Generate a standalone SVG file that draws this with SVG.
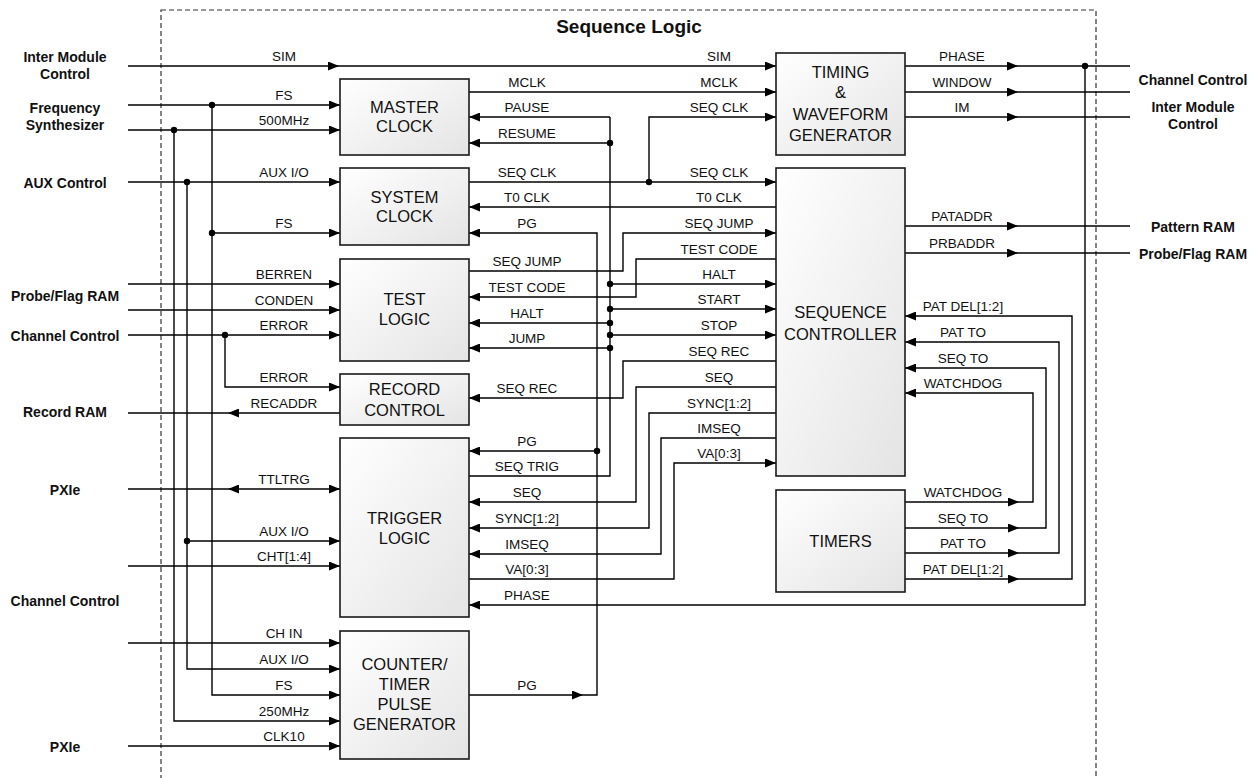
<svg xmlns="http://www.w3.org/2000/svg" width="1258" height="778" viewBox="0 0 1258 778">
<style>
text{font-family:"Liberation Sans",Arial,sans-serif;fill:#111}
.s{font-size:13.5px;text-anchor:middle}
.e{font-size:14px;font-weight:bold;text-anchor:middle}
.b{font-size:16.5px;text-anchor:middle}
.t{font-size:19px;font-weight:bold;text-anchor:middle}
.w{stroke:#000;stroke-width:1.4;fill:none}
.a{marker-end:url(#arr)}
.box{fill:url(#g);stroke:#1a1a1a;stroke-width:1.6}
.d{fill:#000}
</style>
<defs>
<linearGradient id="g" x1="0" y1="0" x2="1" y2="1"><stop offset="0" stop-color="#ffffff"/><stop offset="1" stop-color="#e4e4e4"/></linearGradient>
<marker id="arr" markerWidth="11" markerHeight="9" refX="11" refY="4.5" orient="auto-start-reverse" markerUnits="userSpaceOnUse"><path d="M0,0 L11,4.5 L0,9 z" fill="#000"/></marker>
</defs>
<rect id="frame" x="161" y="10" width="935" height="790" fill="none" stroke="#333" stroke-width="1.2" stroke-dasharray="5,3"/>
<text class="t" x="629" y="33">Sequence Logic</text>

<g id="external-labels">
<text class="e" x="65" y="62">Inter Module</text><text class="e" x="65" y="79">Control</text>
<text class="e" x="65" y="113">Frequency</text><text class="e" x="65" y="130">Synthesizer</text>
<text class="e" x="65" y="188">AUX Control</text>
<text class="e" x="65" y="301">Probe/Flag RAM</text>
<text class="e" x="65" y="341">Channel Control</text>
<text class="e" x="65" y="417">Record RAM</text>
<text class="e" x="65" y="495">PXIe</text>
<text class="e" x="65" y="606">Channel Control</text>
<text class="e" x="65" y="752">PXIe</text>
<text class="e" x="1193" y="85">Channel Control</text>
<text class="e" x="1193" y="112">Inter Module</text><text class="e" x="1193" y="129">Control</text>
<text class="e" x="1193" y="232">Pattern RAM</text>
<text class="e" x="1193" y="259">Probe/Flag RAM</text>
</g>

<g id="connectors">
<path class="w a" d="M128,66 H339"/><path class="w a" d="M339,66 H776"/>
<path class="w a" d="M128,105 H340"/>
<path class="w a" d="M128,130 H340"/>
<path class="w a" d="M128,182 H340"/>
<path class="w a" d="M212,105 V695 H340"/>
<path class="w a" d="M212,233 H340"/>
<path class="w a" d="M174,130 V721 H340"/>
<path class="w a" d="M187,182 V669 H340"/>
<path class="w a" d="M187,541 H340"/>
<path class="w a" d="M128,284 H340"/>
<path class="w a" d="M128,310 H340"/>
<path class="w a" d="M128,335 H340"/>
<path class="w a" d="M225,335 V387 H340"/>
<path class="w a" d="M340,413 H228"/><path class="w" d="M228,413 H128"/>
<path class="w a" d="M228,489 H340" marker-start="url(#arr)"/><path class="w" d="M228,489 H128"/>
<path class="w a" d="M128,566 H340"/>
<path class="w a" d="M128,643 H340"/>
<path class="w a" d="M128,746 H340"/>
<path class="w a" d="M469,92 H776"/>
<path class="w a" d="M610,117 H469"/>
<path class="w" d="M610,117 V476 H469"/>
<path class="w a" d="M610,143 H469"/>
<path class="w a" d="M469,182 H776"/>
<path class="w a" d="M649,182 V117 H776"/>
<path class="w a" d="M776,207 H469"/>
<path class="w a" d="M469,695 H583"/>
<path class="w a" d="M583,695 H597 V233 H469"/>
<path class="w a" d="M597,451 H469"/>
<path class="w a" d="M469,271 H623 V233 H776"/>
<path class="w a" d="M776,259 H636 V297 H469"/>
<path class="w a" d="M610,284 H776"/>
<path class="w a" d="M610,309 H776"/>
<path class="w a" d="M610,323 H469"/>
<path class="w a" d="M610,335 H776"/>
<path class="w a" d="M610,348 H469"/>
<path class="w a" d="M776,361 H623 V398 H469"/>
<path class="w a" d="M776,387 H636 V502 H469"/>
<path class="w a" d="M776,413 H649 V528 H469"/>
<path class="w a" d="M776,438 H661 V554 H469"/>
<path class="w a" d="M469,579 H674 V463 H776"/>
<path class="w a" d="M905,66 H1018"/><path class="w" d="M1018,66 H1130"/>
<path class="w a" d="M1085,66 V605 H469"/>
<path class="w a" d="M905,92 H1018"/><path class="w" d="M1018,92 H1130"/>
<path class="w a" d="M905,117 H1018"/><path class="w" d="M1018,117 H1130"/>
<path class="w a" d="M905,226 H1018"/><path class="w" d="M1018,226 H1130"/>
<path class="w a" d="M905,253 H1018"/><path class="w" d="M1018,253 H1130"/>
<path class="w a" d="M905,502 H1019"/><path class="w a" d="M1019,502 H1033 V393 H905"/>
<path class="w a" d="M905,528 H1019"/><path class="w a" d="M1019,528 H1046 V368 H905"/>
<path class="w a" d="M905,553 H1019"/><path class="w a" d="M1019,553 H1059 V342 H905"/>
<path class="w a" d="M905,579 H1019"/><path class="w a" d="M1019,579 H1072 V316 H905"/>
<g class="d">
<circle cx="212" cy="105" r="3.2"/><circle cx="174" cy="130" r="3.2"/><circle cx="187" cy="182" r="3.2"/>
<circle cx="212" cy="233" r="3.2"/><circle cx="225" cy="335" r="3.2"/><circle cx="187" cy="541" r="3.2"/>
<circle cx="610" cy="143" r="3.2"/><circle cx="649" cy="182" r="3.2"/>
<circle cx="610" cy="284" r="3.2"/><circle cx="610" cy="309" r="3.2"/><circle cx="610" cy="323" r="3.2"/>
<circle cx="610" cy="335" r="3.2"/><circle cx="610" cy="348" r="3.2"/><circle cx="597" cy="451" r="3.2"/>
<circle cx="1085" cy="66" r="3.2"/>
</g>
</g>

<g id="signal-labels">
<text class="s" x="284" y="61">SIM</text>
<text class="s" x="284" y="100">FS</text>
<text class="s" x="284" y="125">500MHz</text>
<text class="s" x="284" y="177">AUX I/O</text>
<text class="s" x="284" y="228">FS</text>
<text class="s" x="284" y="279">BERREN</text>
<text class="s" x="284" y="305">CONDEN</text>
<text class="s" x="284" y="330">ERROR</text>
<text class="s" x="284" y="382">ERROR</text>
<text class="s" x="284" y="408">RECADDR</text>
<text class="s" x="284" y="484">TTLTRG</text>
<text class="s" x="284" y="536">AUX I/O</text>
<text class="s" x="284" y="561">CHT[1:4]</text>
<text class="s" x="284" y="638">CH IN</text>
<text class="s" x="284" y="664">AUX I/O</text>
<text class="s" x="284" y="690">FS</text>
<text class="s" x="284" y="716">250MHz</text>
<text class="s" x="284" y="741">CLK10</text>

<text class="s" x="527" y="87">MCLK</text>
<text class="s" x="527" y="112">PAUSE</text>
<text class="s" x="527" y="138">RESUME</text>
<text class="s" x="527" y="177">SEQ CLK</text>
<text class="s" x="527" y="202">T0 CLK</text>
<text class="s" x="527" y="228">PG</text>
<text class="s" x="527" y="266">SEQ JUMP</text>
<text class="s" x="527" y="292">TEST CODE</text>
<text class="s" x="527" y="318">HALT</text>
<text class="s" x="527" y="343">JUMP</text>
<text class="s" x="527" y="393">SEQ REC</text>
<text class="s" x="527" y="446">PG</text>
<text class="s" x="527" y="471">SEQ TRIG</text>
<text class="s" x="527" y="497">SEQ</text>
<text class="s" x="527" y="523">SYNC[1:2]</text>
<text class="s" x="527" y="549">IMSEQ</text>
<text class="s" x="527" y="574">VA[0:3]</text>
<text class="s" x="527" y="600">PHASE</text>
<text class="s" x="527" y="690">PG</text>

<text class="s" x="719" y="61">SIM</text>
<text class="s" x="719" y="87">MCLK</text>
<text class="s" x="719" y="112">SEQ CLK</text>
<text class="s" x="719" y="177">SEQ CLK</text>
<text class="s" x="719" y="202">T0 CLK</text>
<text class="s" x="719" y="228">SEQ JUMP</text>
<text class="s" x="719" y="254">TEST CODE</text>
<text class="s" x="719" y="279">HALT</text>
<text class="s" x="719" y="304">START</text>
<text class="s" x="719" y="330">STOP</text>
<text class="s" x="719" y="356">SEQ REC</text>
<text class="s" x="719" y="382">SEQ</text>
<text class="s" x="719" y="408">SYNC[1:2]</text>
<text class="s" x="719" y="433">IMSEQ</text>
<text class="s" x="719" y="458">VA[0:3]</text>

<text class="s" x="962" y="61">PHASE</text>
<text class="s" x="962" y="87">WINDOW</text>
<text class="s" x="962" y="112">IM</text>
<text class="s" x="962" y="221">PATADDR</text>
<text class="s" x="962" y="248">PRBADDR</text>
<text class="s" x="963" y="311">PAT DEL[1:2]</text>
<text class="s" x="963" y="337">PAT TO</text>
<text class="s" x="963" y="363">SEQ TO</text>
<text class="s" x="963" y="388">WATCHDOG</text>
<text class="s" x="963" y="497">WATCHDOG</text>
<text class="s" x="963" y="523">SEQ TO</text>
<text class="s" x="963" y="548">PAT TO</text>
<text class="s" x="963" y="574">PAT DEL[1:2]</text>
</g>

<g id="master-clock"><rect class="box" x="340" y="79" width="129" height="76"/><text class="b" x="404.5" y="113">MASTER</text><text class="b" x="404.5" y="132">CLOCK</text></g>
<g id="system-clock"><rect class="box" x="340" y="168" width="129" height="77"/><text class="b" x="404.5" y="203">SYSTEM</text><text class="b" x="404.5" y="222">CLOCK</text></g>
<g id="test-logic"><rect class="box" x="340" y="259" width="129" height="102"/><text class="b" x="404.5" y="305">TEST</text><text class="b" x="404.5" y="325">LOGIC</text></g>
<g id="record-control"><rect class="box" x="340" y="374" width="129" height="51"/><text class="b" x="404.5" y="395">RECORD</text><text class="b" x="404.5" y="416">CONTROL</text></g>
<g id="trigger-logic"><rect class="box" x="340" y="438" width="129" height="179"/><text class="b" x="404.5" y="524">TRIGGER</text><text class="b" x="404.5" y="544">LOGIC</text></g>
<g id="counter-timer"><rect class="box" x="340" y="631" width="129" height="128"/><text class="b" x="404.5" y="670">COUNTER/</text><text class="b" x="404.5" y="690">TIMER</text><text class="b" x="404.5" y="710">PULSE</text><text class="b" x="404.5" y="730">GENERATOR</text></g>
<g id="timing-waveform"><rect class="box" x="776" y="53" width="129" height="102"/><text class="b" x="840.5" y="78">TIMING</text><text class="b" x="840.5" y="98">&amp;</text><text class="b" x="840.5" y="120">WAVEFORM</text><text class="b" x="840.5" y="141">GENERATOR</text></g>
<g id="sequence-controller"><rect class="box" x="776" y="168" width="129" height="308"/><text class="b" x="840.5" y="318">SEQUENCE</text><text class="b" x="840.5" y="340">CONTROLLER</text></g>
<g id="timers"><rect class="box" x="776" y="490" width="129" height="102"/><text class="b" x="840.5" y="547">TIMERS</text></g>
</svg>
